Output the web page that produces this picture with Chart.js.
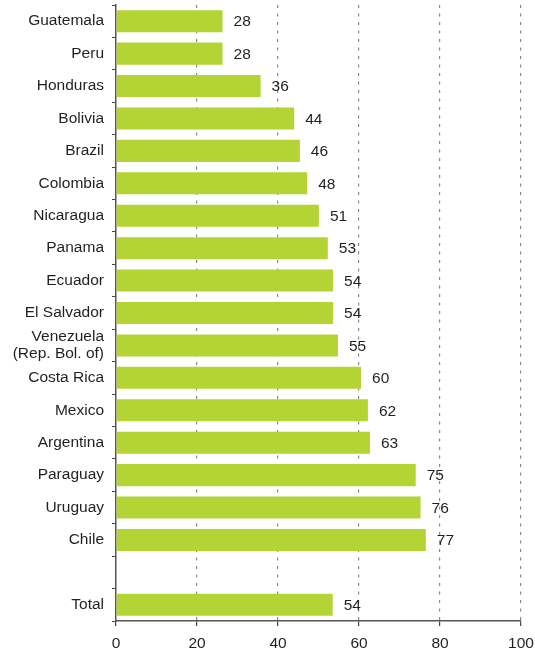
<!DOCTYPE html>
<html>
<head>
<meta charset="utf-8">
<script src="https://cdn.jsdelivr.net/npm/chart.js@4/dist/chart.umd.min.js"></script>
<style>
  html, body { margin: 0; padding: 0; background: #fff; }
  #wrap { width: 535px; height: 654px; position: relative; }
</style>
</head>
<body>
<div id="wrap"><canvas id="chart"></canvas></div>
<script>
// countries, top to bottom; the empty entry is the gap before Total
const countries = ['Guatemala', 'Peru', 'Honduras', 'Bolivia', 'Brazil', 'Colombia', 'Nicaragua',
  'Panama', 'Ecuador', 'El Salvador', ['Venezuela', '(Rep. Bol. of)'], 'Costa Rica', 'Mexico',
  'Argentina', 'Paraguay', 'Uruguay', 'Chile', '', 'Total'];
// bar lengths as drawn
const barValues = [26.3, 26.3, 35.7, 44.0, 45.4, 47.2, 50.1, 52.3, 53.6, 53.6, 54.8, 60.5, 62.2,
  62.7, 74.0, 75.2, 76.5, null, 53.5];
// numbers printed next to the bars
const valueLabels = ['28', '28', '36', '44', '46', '48', '51', '53', '54', '54', '55', '60', '62',
  '63', '75', '76', '77', '', '54'];
const xTicks = [0, 20, 40, 60, 80, 100];

const FONT = '"Liberation Sans", Arial, Helvetica, sans-serif';
const TEXT = '#231f20';

const valueLabelPlugin = {
  id: 'valueLabels',
  afterDatasetsDraw(chart) {
    const ctx = chart.ctx;
    const meta = chart.getDatasetMeta(0);
    ctx.save();
    ctx.font = '15.5px ' + FONT;
    ctx.fillStyle = TEXT;
    ctx.textAlign = 'left';
    ctx.textBaseline = 'middle';
    meta.data.forEach((bar, i) => {
      if (barValues[i] == null) return;
      ctx.fillText(valueLabels[i], bar.x + 11, bar.y + 1);
    });
    ctx.restore();
  }
};

new Chart(document.getElementById('chart'), {
  type: 'bar',
  data: {
    labels: countries,
    datasets: [{
      data: barValues,
      backgroundColor: '#b4d334',
      borderWidth: 0,
      barPercentage: 0.68,
      categoryPercentage: 1.0
    }]
  },
  options: {
    indexAxis: 'y',
    responsive: true,
    maintainAspectRatio: false,
    animation: false,
    layout: { padding: { top: 5, right: 14, left: 0, bottom: 0 } },
    plugins: { legend: { display: false }, tooltip: { enabled: false } },
    scales: {
      x: {
        min: 0,
        max: 100,
        afterBuildTicks: (scale) => { scale.ticks = xTicks.map(v => ({ value: v })); },
        afterFit: (scale) => {
          scale.height = 33;
          scale.paddingLeft = 0;
          scale.paddingRight = 0;
        },
        border: { display: true, color: '#555', width: 1.5, dash: [3, 5.5] },
        grid: {
          color: (c) => c.tick && c.tick.value === 0 ? 'rgba(0,0,0,0)' : '#8a8a8a',
          lineWidth: 1.2,
          tickColor: '#444',
          tickLength: 5,
          tickBorderDash: []
        },
        ticks: {
          padding: 8,
          color: TEXT,
          font: { family: FONT, size: 15.5 }
        }
      },
      y: {
        afterFit: (scale) => {
          scale.width = 116;
          scale.paddingTop = 0;
          scale.paddingBottom = 0;
        },
        border: { display: true, color: '#555', width: 1.5 },
        grid: {
          offset: true,
          drawOnChartArea: false,
          tickColor: '#444',
          tickLength: 4
        },
        ticks: {
          autoSkip: false,
          padding: 8,
          color: TEXT,
          font: { family: FONT, size: 15.5, lineHeight: 1.08 }
        }
      }
    }
  },
  plugins: [valueLabelPlugin]
});
</script>
</body>
</html>
